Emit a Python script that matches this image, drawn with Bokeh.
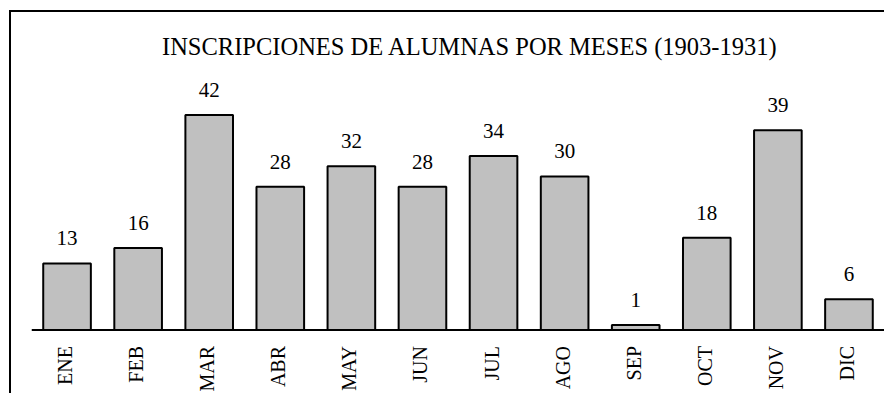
import math
from bokeh.plotting import figure
from bokeh.models import ColumnDataSource, FactorRange, Range1d, Label, Span
from bokeh.core.properties import value
from bokeh.embed import file_html
from bokeh.resources import INLINE

months = ["ENE", "FEB", "MAR", "ABR", "MAY", "JUN", "JUL", "AGO", "SEP", "OCT", "NOV", "DIC"]
counts = [13, 16, 42, 28, 32, 28, 34, 30, 1, 18, 39, 6]
title_text = "INSCRIPCIONES DE ALUMNAS POR MESES (1903-1931)"

FONT = "Liberation Serif, Times New Roman, DejaVu Serif, serif"

src = ColumnDataSource(dict(month=months, count=counts, label=[str(c) for c in counts]))

PX_PER_UNIT = 5.12
AXIS_Y = 329.5
H = 393
TITLE_Y = 45.5

p = figure(
    x_range=FactorRange(*months, range_padding=0),
    y_range=Range1d(-(H - AXIS_Y) / PX_PER_UNIT, AXIS_Y / PX_PER_UNIT),
    width=884, height=H,
    x_axis_location=None, y_axis_location=None,
    output_backend="svg", toolbar_location=None,
    min_border_left=31, min_border_right=0, min_border_top=0, min_border_bottom=0,
)
p.outline_line_color = None
p.background_fill_color = None
p.border_fill_color = None
p.xgrid.visible = False
p.ygrid.visible = False

# outer chart frame (top and left edges visible, as in the reference)
p.styles = {
    "background-image": "linear-gradient(black, black), linear-gradient(black, black)",
    "background-size": "2px 100%, 100% 2px",
    "background-position": "9px 10px, 9px 10px",
    "background-repeat": "no-repeat",
}

p.vbar(x="month", top="count", width=0.67, source=src,
       fill_color="#C0C0C0", line_color="black", line_width=2)

# category axis line
p.add_layout(Span(location=0, dimension="width", line_color="black", line_width=2))

# value labels
p.text(x="month", y="count", text="label", source=src,
       text_align="center", text_baseline="middle", y_offset=-25,
       text_font=value(FONT), text_font_size="21px", text_color="black")

# month labels (vertical, reading upward)
p.text(x="month", y=0, text="month", source=src, angle=math.pi / 2,
       text_align="right", text_baseline="middle", y_offset=16, x_offset=-2,
       text_font=value(FONT), text_font_size="20px", text_color="black")

p.add_layout(Label(x=6, y=(AXIS_Y - TITLE_Y) / PX_PER_UNIT, x_offset=12, text=title_text,
                   text_align="center", text_baseline="middle", text_font=FONT,
                   text_font_size="24.5px", text_color="black"))

open("out.html", "w").write(file_html(p, INLINE))
